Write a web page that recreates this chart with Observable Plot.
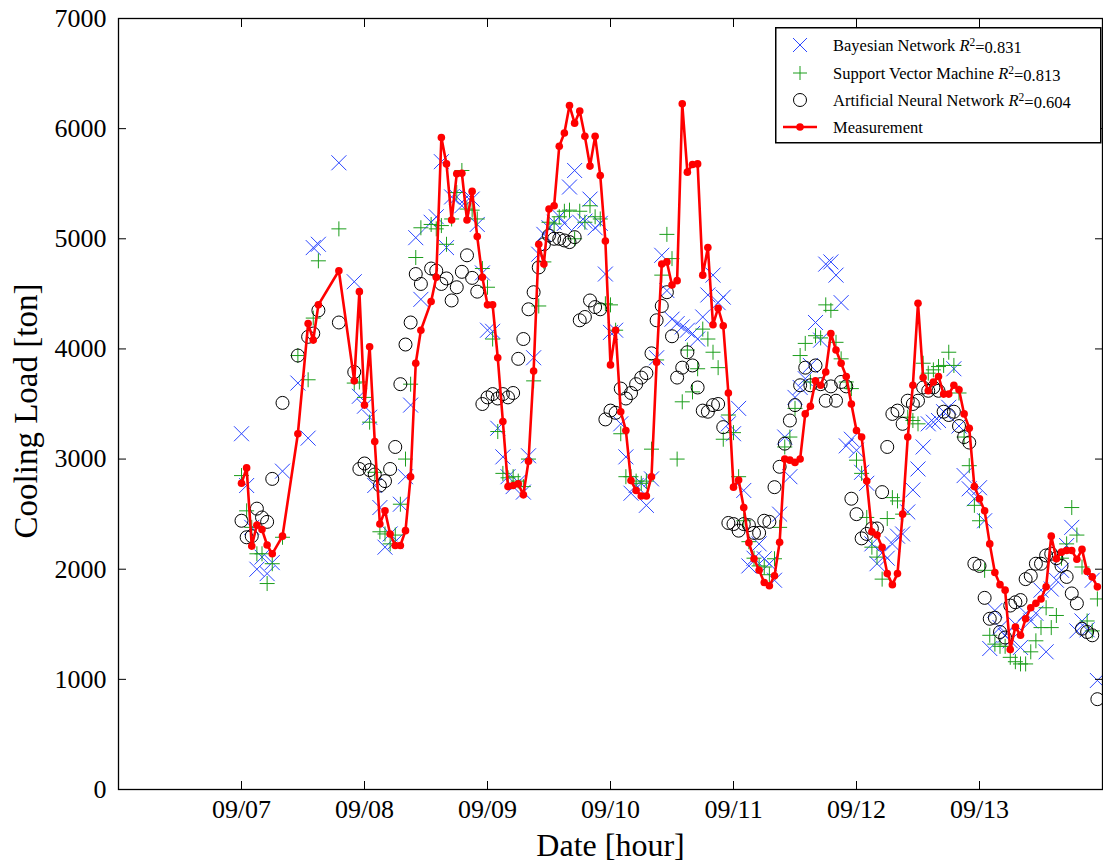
<!DOCTYPE html>
<html><head><meta charset="utf-8">
<script src="https://cdn.jsdelivr.net/npm/d3@7"></script>
<script src="https://cdn.jsdelivr.net/npm/@observablehq/plot@0.6"></script>
<style>
body{margin:0;background:#fff;}
#wrap{position:relative;width:1103px;height:865px;overflow:hidden;}
#legend{position:absolute;left:775px;top:27px;}
</style>
</head><body>
<div id="wrap"></div>
<script>
// hours after 09/07 00:00
const hours = [
 0,1,2,3,4,5,6,8,11,13,14,15,19,
 22,23,24,25,26,27,28,29,30,31,32,33,34,35,
 37,38,39,40,41,42,43,44,45,46,
 47,48,49,50,51,52,53,54,55,56,
 57,58,59,60,61,62,63,64,65,66,
 67,68,69,70,71,72,73,74,75,76,
 77,78,79,80,81,82,83,84,85,86,
 87,88,89,90,91,92,93,94,95,96,
 97,98,99,100,101,102,103,104,105,106,
 107,108,109,110,111,112,113,114,115,116,
 117,118,119,120,121,122,123,124,125,126,
 127,128,129,130,131,132,133,134,135,136,
 137,138,139,140,141,142,143,144,145,146,
 147,148,149,150,151,152,153,154,155,156,
 157,158,159,160,161,162,163,164,165,166,
 167];

const measurement = [
 2780,2920,2210,2400,2360,2220,2140,2300,3230,4230,4080,4400,4710,
 3710,4520,3490,4020,3160,2410,2530,2320,2215,2215,2350,2840,3870,4170,
 4430,4650,5920,5680,5170,5590,5595,5170,5430,5020,
 4650,4400,4400,3920,3340,2750,2760,2775,2675,2980,
 3800,4950,4770,5270,5300,5840,5960,6210,6050,6160,
 5930,5660,5930,5575,4980,3855,4170,3430,3260,2805,
 2715,2665,2665,2840,3880,4770,4790,4580,4620,6225,
 5605,5675,5680,4670,4920,4220,4370,4210,3600,2745,
 2810,2560,2240,2095,1990,1880,1850,1940,2245,3000,
 2990,2970,3000,3410,3480,3710,3670,3790,4140,3990,
 3870,3750,3500,3260,3200,2800,2340,2310,2200,1960,
 1860,1960,2500,3200,3670,4415,3740,3620,3700,3750,
 3590,3590,3670,3630,3410,3280,2750,2640,2530,2230,
 1970,1860,1810,1270,1475,1400,1550,1650,1690,1730,
 1840,2300,2095,2155,2170,2170,2090,2180,1980,1930,
 1840];

const bayesian = [
 3230,2760,2380,2000,2110,1960,2060,2890,3690,3190,4920,4950,5690,
 4610,3570,3480,3380,2760,2560,2200,2320,2250,2590,2840,3490,5010,4450,
 5150,5200,5700,4920,5380,5380,5300,5380,5360,5130,
 4690,4170,4160,3280,3020,2840,2750,2790,2700,3030,
 3920,4860,5040,5100,5150,5200,5140,5470,5620,5150,
 5160,5360,5100,5140,4680,4150,4170,3320,3020,2690,
 2760,2780,2580,2820,3920,4850,4530,4270,4230,4200,
 4170,4140,4090,4290,4490,4670,4420,4470,3320,3230,
 3460,2715,2030,2100,2230,2095,2050,1900,2500,3200,
 2840,3560,3650,3730,3850,4240,4080,4770,4790,4670,
 4420,3120,3180,3080,2880,2780,2230,2050,2150,2100,
 2230,2300,2320,2520,2720,2910,3110,3320,3335,3350,
 3430,3470,3820,3300,2850,2730,2640,2740,2440,1280,
 1625,1470,1400,1350,1500,1290,1600,1530,1600,1810,
 1250,1820,1900,1990,2215,2380,1440,1530,1450,1900,
 990];

const svm = [
 2850,2530,2380,2140,2140,1870,2050,2290,3940,3720,4280,4800,5090,
 3690,3700,3560,3335,2880,2340,2320,2230,2310,2590,3000,3680,4830,5100,
 5130,5090,5120,4950,5180,5420,5620,5270,5260,5180,
 4730,4560,4090,3250,2870,2830,2840,2800,2750,3000,
 3710,4390,4790,5150,5135,5200,5250,5260,5000,5250,
 5150,5300,5200,5180,4410,4400,4170,3230,2840,2840,
 2800,2780,2800,3090,3900,4670,5040,4820,3000,3520,
 3990,3610,3820,4180,4090,3970,3830,3180,3400,3240,
 2840,2440,2250,2100,2030,2020,1950,2095,2380,3110,
 3200,3460,3940,4050,3700,4120,4100,4400,4350,4060,
 3910,3700,3640,2990,2870,2470,2200,2110,1910,2460,
 2650,2620,2500,3380,3350,3320,3870,3780,3810,3840,
 3850,3970,3850,3600,3200,2940,2580,2440,1990,1400,
 1320,1300,1300,1200,1160,1140,1140,1250,1350,1470,
 1650,1470,1580,2100,2230,2560,2310,2020,1530,1440,
 1730];

const ann = [
 2440,2290,2300,2550,2470,2430,2820,3510,3940,4110,4140,4350,4240,
 3790,2910,2960,2900,2860,2760,2800,2910,3110,3680,4040,4240,4680,4590,
 4730,4710,4590,4640,4440,4560,4700,4850,4645,4520,
 3500,3560,3590,3550,3590,3560,3600,3910,4090,4360,
 4515,4740,4950,5030,5000,5000,4985,4970,5015,4260,
 4290,4440,4380,4360,3360,3440,3420,3640,3550,3600,
 3680,3740,3780,3960,4260,4390,4515,4115,3740,3830,
 3970,3850,3650,3440,3430,3490,3500,3290,2420,2410,
 2350,2410,2400,2330,2330,2440,2430,2745,2930,3140,
 3350,3490,3670,3830,3670,3850,3680,3530,3660,3530,
 3700,3660,2640,2500,2280,2320,2370,2370,2700,3110,
 3410,3440,3320,3530,3500,3530,3650,3620,3650,3620,
 3430,3400,3430,3300,3200,3150,2050,2030,1740,1550,
 1560,1430,1380,1670,1700,1720,1910,1940,2050,2050,
 2125,2140,2100,2030,1930,1780,1690,1460,1430,1400,
 820];

const xTicks = [0,24,48,72,96,120,144];
const xTickLabels = ["09/07","09/08","09/09","09/10","09/11","09/12","09/13"];
const yTicks = [0,1000,2000,3000,4000,5000,6000,7000];

const legendItems = [
 {name:"Bayesian Network ", r2:"0.831", kind:"x"},
 {name:"Support Vector Machine ", r2:"0.813", kind:"+"},
 {name:"Artificial Neural Network ", r2:"0.604", kind:"o"},
 {name:"Measurement", r2:null, kind:"line"}
];

const BLUE = "#2a45ff", GREEN = "#1c9e1c", RED = "#ff0000";
const FONT = "'Liberation Serif', 'Times New Roman', serif";

const rows = hours.map((h,i)=>({h, m:measurement[i], bn:bayesian[i], svm:svm[i], ann:ann[i]}));

const crossSym = {draw(ctx,size){const r=Math.sqrt(size/Math.PI);ctx.moveTo(-r,-r);ctx.lineTo(r,r);ctx.moveTo(r,-r);ctx.lineTo(-r,r);}};
const plusSym = {draw(ctx,size){const r=Math.sqrt(size/Math.PI);ctx.moveTo(-r,0);ctx.lineTo(r,0);ctx.moveTo(0,-r);ctx.lineTo(0,r);}};

const chart = Plot.plot({
  width:1103, height:865,
  marginLeft:118, marginRight:1, marginTop:18, marginBottom:76,
  style:{fontFamily:FONT, fontSize:"26px", background:"#fff", color:"#000"},
  x:{domain:[-24,168]},
  y:{domain:[0,7000]},
  marks:[
    Plot.dot(rows,{x:"h", y:"bn", symbol:crossSym, r:7.5, stroke:BLUE, strokeWidth:1}),
    Plot.dot(rows,{x:"h", y:"svm", symbol:plusSym, r:7.5, stroke:GREEN, strokeWidth:1}),
    Plot.dot(rows,{x:"h", y:"ann", r:6.5, stroke:"#000", strokeWidth:1, fill:"none"}),
    Plot.line(rows,{x:"h", y:"m", stroke:RED, strokeWidth:2.6}),
    Plot.dot(rows,{x:"h", y:"m", r:3.8, fill:RED, stroke:"none"}),
    Plot.frame({stroke:"#000", strokeWidth:1.3}),
    Plot.axisY(yTicks,{tickSize:-8, tickPadding:20, label:null, fontSize:26, tickFormat:d=>String(d)}),
    Plot.axisY(yTicks,{anchor:"right", tickSize:-8, tickFormat:()=>"", label:null}),
    Plot.axisX(xTicks,{tickSize:-8, tickPadding:18, label:null, fontSize:26,
      tickFormat:d=>xTickLabels[xTicks.indexOf(d)]}),
    Plot.axisX(xTicks,{anchor:"top", tickSize:-8, tickFormat:()=>"", label:null}),
    Plot.text(["Cooling Load [ton]"],{frameAnchor:"left", textAnchor:"middle", lineAnchor:"middle", rotate:-90, dx:-92, dy:7, fontSize:33}),
    Plot.text(["Date [hour]"],{frameAnchor:"bottom", textAnchor:"middle", lineAnchor:"middle", dy:56, fontSize:32})
  ]
});
const wrap = document.getElementById("wrap");
wrap.appendChild(chart);

// legend overlay
const ns = "http://www.w3.org/2000/svg";
const lg = document.createElementNS(ns,"svg");
lg.setAttribute("id","legend");
lg.setAttribute("width","328");
lg.setAttribute("height","118");
let html = `<rect x="0.75" y="0.75" width="325" height="115" fill="#fff" stroke="#000" stroke-width="1.5"/>`;
const rowY = [18,46,73,100];
legendItems.forEach((it,i)=>{
  const y = rowY[i], mx = 25;
  if(it.kind==="x") html += `<path d="M${mx-7},${y-7}L${mx+7},${y+7}M${mx+7},${y-7}L${mx-7},${y+7}" stroke="${BLUE}" stroke-width="1"/>`;
  if(it.kind==="+") html += `<path d="M${mx-7},${y}L${mx+7},${y}M${mx},${y-7}L${mx},${y+7}" stroke="${GREEN}" stroke-width="1"/>`;
  if(it.kind==="o") html += `<circle cx="${mx}" cy="${y}" r="6.5" fill="none" stroke="#000" stroke-width="1"/>`;
  if(it.kind==="line") html += `<path d="M${mx-17},${y}L${mx+17},${y}" stroke="${RED}" stroke-width="2.6"/><circle cx="${mx}" cy="${y}" r="3.8" fill="${RED}"/>`;
  let t = `<text x="58" y="${y}" dy="0.35em" font-family="${FONT.replace(/"/g,'')}" font-size="16.5" fill="#000">${it.name}`;
  if(it.r2) t += `<tspan font-style="italic">R</tspan><tspan dy="-0.45em" font-size="11.5">2</tspan><tspan dy="0.45em">=${it.r2}</tspan>`;
  t += `</text>`;
  html += t;
});
lg.innerHTML = html;
wrap.appendChild(lg);
</script>
</body></html>
